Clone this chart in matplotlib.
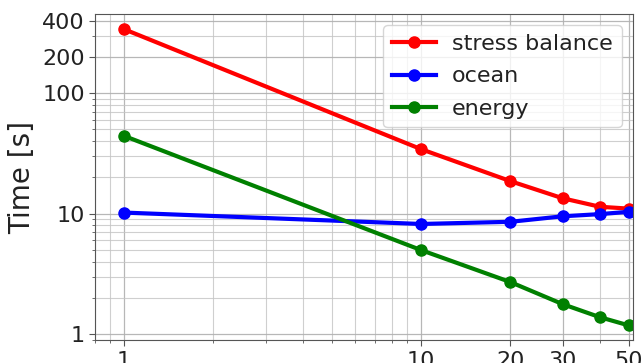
import matplotlib
matplotlib.use("Agg")
import matplotlib.pyplot as plt
from matplotlib.ticker import FixedLocator, NullFormatter, LogLocator

x = [1, 10, 20, 30, 40, 50]
stress_balance = [340, 34.3, 18.6, 13.4, 11.4, 11.0]
ocean = [10.2, 8.2, 8.55, 9.5, 9.9, 10.35]
energy = [44.2, 4.98, 2.70, 1.77, 1.38, 1.18]

xticks = [1, 10, 20, 30, 50]
yticks = [1, 10, 100, 200, 400]

fig = plt.figure(figsize=(6.43, 3.63), dpi=100)
ax = fig.add_axes([0.148, 0.063, 0.836, 0.898])

kw = dict(lw=3, marker="o", ms=8)
ax.plot(x, stress_balance, color="red", label="stress balance", **kw)
ax.plot(x, ocean, color="blue", label="ocean", **kw)
ax.plot(x, energy, color="green", label="energy", **kw)

ax.set_xscale("log")
ax.set_yscale("log")
ax.set_xlim(0.8, 51.6)
ax.set_ylim(0.89, 453)

ax.xaxis.set_major_locator(FixedLocator(xticks))
ax.set_xticklabels([str(v) for v in xticks])
ax.xaxis.set_minor_locator(LogLocator(base=10, subs=range(1, 10)))
ax.xaxis.set_minor_formatter(NullFormatter())
ax.yaxis.set_major_locator(FixedLocator(yticks))
ax.set_yticklabels([str(v) for v in yticks])
ax.yaxis.set_minor_locator(LogLocator(base=10, subs=range(1, 10)))
ax.yaxis.set_minor_formatter(NullFormatter())

ax.tick_params(axis="both", which="major", labelsize=16, length=4, color="#555555",
               labelcolor="#222222")
ax.tick_params(axis="both", which="minor", length=2, color="#555555")
ax.grid(True, which="major", color="#b0b0b0", lw=0.9, alpha=0.9)
ax.grid(True, which="minor", color="#c4c4c4", lw=0.8, alpha=0.8)
for s in ax.spines.values():
    s.set_color("#555555")

ax.set_ylabel("Time [s]", fontsize=20, color="#222222")
leg = ax.legend(loc="upper right", fontsize=16, handlelength=2.0, borderpad=0.4,
                labelspacing=0.55, handletextpad=0.7, borderaxespad=0.5)
for t in leg.get_texts():
    t.set_color("#222222")

fig.savefig("out.png", dpi=100)
